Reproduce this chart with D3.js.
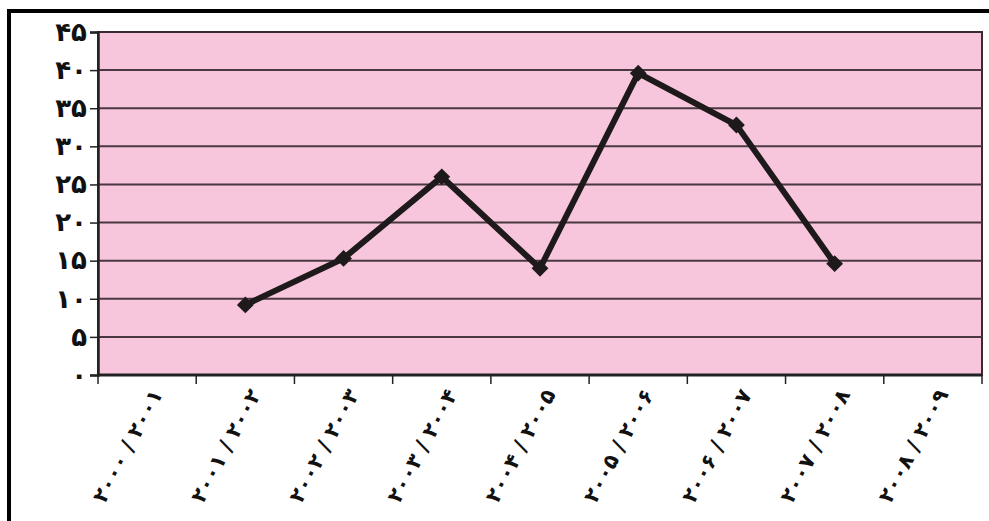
<!DOCTYPE html>
<html><head><meta charset="utf-8">
<script src="https://cdn.jsdelivr.net/npm/d3@7"></script>
<style>html,body{margin:0;padding:0;background:#fff;overflow:hidden}</style>
</head><body>
<svg id="c" width="989" height="521"></svg>
<script>
const categories = ["۲۰۰۰ / ۲۰۰۱","۲۰۰۱ / ۲۰۰۲","۲۰۰۲ / ۲۰۰۳","۲۰۰۳ / ۲۰۰۴","۲۰۰۴ / ۲۰۰۵","۲۰۰۵ / ۲۰۰۶","۲۰۰۶ / ۲۰۰۷","۲۰۰۷ / ۲۰۰۸","۲۰۰۸ / ۲۰۰۹"];
const values = [null, 9.2, 15.3, 26, 14, 39.6, 32.8, 14.6, null];
const yTicks = [0,5,10,15,20,25,30,35,40,45];
const yTickLabels = ["۰","۵","۱۰","۱۵","۲۰","۲۵","۳۰","۳۵","۴۰","۴۵"];

const svg = d3.select("#c");
const font = "'DejaVu Sans', sans-serif";
const m = {left:98, right:982, top:32, bottom:375};

// outer frame
svg.append("rect").attr("x",9).attr("y",11).attr("width",1100).attr("height",600)
  .attr("fill","#fff").attr("stroke","#000").attr("stroke-width",4);

const x = d3.scaleBand().domain(categories).range([m.left,m.right]).padding(0);
const y = d3.scaleLinear().domain([0,45]).range([m.bottom,m.top]);

svg.append("rect").attr("x",m.left).attr("y",m.top).attr("width",m.right-m.left).attr("height",m.bottom-m.top)
  .attr("fill","#f7c5dc").attr("stroke","#3b2a30").attr("stroke-width",2);

// gridlines
svg.append("g").selectAll("line").data(yTicks.filter(t=>t>0&&t<45)).join("line")
  .attr("x1",m.left).attr("x2",m.right).attr("y1",d=>y(d)).attr("y2",d=>y(d))
  .attr("stroke","#4a3840").attr("stroke-width",2);

// y axis
const yAxis = d3.axisLeft(y).tickValues(yTicks).tickSize(8).tickPadding(3)
  .tickFormat((d,i)=>yTickLabels[i]);
const gy = svg.append("g").attr("transform",`translate(${m.left},0)`).call(yAxis);
gy.select(".domain").attr("stroke","#222").attr("stroke-width",2.5);
gy.selectAll(".tick line").attr("stroke","#222").attr("stroke-width",1.5);
gy.selectAll(".tick text").attr("font-family",font).attr("font-size",26).attr("font-weight","bold").attr("fill","#111");

// x axis
const gx = svg.append("g").attr("transform",`translate(0,${m.bottom})`);
gx.append("line").attr("x1",m.left).attr("x2",m.right).attr("stroke","#222").attr("stroke-width",3);
const bounds = categories.map(c=>x(c)).concat([x(categories[categories.length-1])+x.bandwidth()]);
gx.selectAll("line.t").data(bounds).join("line").attr("class","t")
  .attr("x1",d=>d).attr("x2",d=>d).attr("y1",0).attr("y2",9).attr("stroke","#222").attr("stroke-width",1.5);
gx.selectAll("text").data(categories).join("text")
  .attr("transform",d=>`translate(${x(d)+x.bandwidth()/2+10},${391-m.bottom}) rotate(-62)`)
  .attr("text-anchor","end").attr("dominant-baseline","central")
  .attr("font-family",font).attr("font-size",21).attr("font-weight","bold").attr("fill","#111")
  .text(d=>d);

// line
const pts = categories.map((c,i)=>({c, v:values[i]})).filter(d=>d.v!=null);
const line = d3.line().x(d=>x(d.c)+x.bandwidth()/2).y(d=>y(d.v));
svg.append("path").datum(pts).attr("d",line).attr("fill","none")
  .attr("stroke","#1e1a1b").attr("stroke-width",6).attr("stroke-linejoin","miter");
svg.append("g").selectAll("path").data(pts).join("path")
  .attr("transform",d=>`translate(${x(d.c)+x.bandwidth()/2},${y(d.v)})`)
  .attr("d",d3.symbol().type(d3.symbolDiamond2).size(180))
  .attr("fill","#1e1a1b");
</script>
</body></html>
